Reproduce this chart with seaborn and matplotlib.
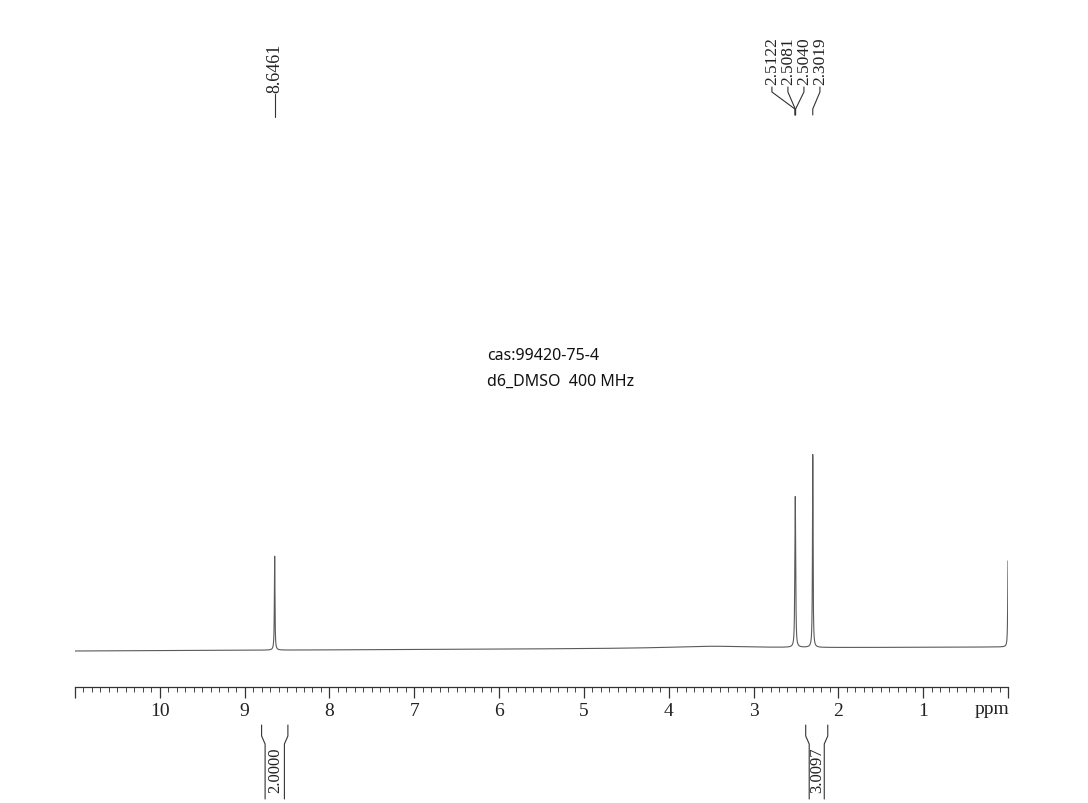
import numpy as np
import pandas as pd
import matplotlib
matplotlib.use("Agg")
import matplotlib.pyplot as plt
from matplotlib.lines import Line2D
from matplotlib.ticker import MultipleLocator, FixedLocator
import seaborn as sns

# ---------------- data ----------------
peak_ppm = [8.6461, 2.5122, 2.5081, 2.5040, 2.3019, 0.0, 3.5]
peak_height = [94, 50, 102, 50, 193, 86, 2]
peak_hwhm = [0.004, 0.004, 0.004, 0.004, 0.004, 0.004, 0.6]
baseline_ppm = [11.0, 0.0]
baseline_level = [0.0, 4.0]

label_single = ["8.6461"]
label_single_ppm = [8.6461]
label_group = ["2.5122", "2.5081", "2.5040", "2.3019"]
label_group_ppm = [2.5122, 2.5081, 2.5040, 2.3019]

integral_start = [8.80, 2.385]
integral_end = [8.49, 2.125]
integral_value = ["2.0000", "3.0097"]

major_ticks = [10, 9, 8, 7, 6, 5, 4, 3, 2, 1]
info_lines = ["cas:99420-75-4", "d6_DMSO  400 MHz"]

# ---------------- build spectrum ----------------
ppm = np.linspace(11.0, 0.0, 22001)
intensity = np.interp(ppm, baseline_ppm[::-1], baseline_level[::-1])
for p, h, w in zip(peak_ppm, peak_height, peak_hwhm):
    intensity = intensity + h / (1.0 + ((ppm - p) / w) ** 2)
df = pd.DataFrame({"ppm": ppm, "intensity": intensity})

# ---------------- figure ----------------
sns.set_style("white")
plt.rcParams["font.family"] = ["Liberation Serif", "DejaVu Serif"]
W, H = 1088, 804
fig = plt.figure(figsize=(W / 100, H / 100), dpi=100)
fig.patch.set_facecolor("white")

def fx(px):
    return px / W

def fy(py):
    return 1 - py / H

ax_l, ax_r, ax_b, ax_t = 75, 1008, 688, 440
ax = fig.add_axes([fx(ax_l), fy(ax_b), (ax_r - ax_l) / W, (ax_b - ax_t) / H])
sns.lineplot(data=df, x="ppm", y="intensity", ax=ax, color="#5a5a5a",
             linewidth=0.8, estimator=None, sort=False)
ax.set_xlim(11, 0)
ax.set_ylim(-36, 212)
for s in ["top", "left", "right"]:
    ax.spines[s].set_visible(False)
ax.spines["bottom"].set_color("#333333")
ax.spines["bottom"].set_linewidth(0.9)
ax.set_yticks([])
ax.set_xlabel("")
ax.set_ylabel("")
ax.xaxis.set_major_locator(FixedLocator([11] + major_ticks + [0]))
ax.set_xticklabels([""] + [str(t) for t in major_ticks] + [""])
ax.xaxis.set_minor_locator(MultipleLocator(0.1))
ax.tick_params(axis="x", which="both", bottom=True, top=False)
ax.tick_params(axis="x", which="major", direction="out", length=8, width=0.9,
               colors="#333333", labelsize=14, pad=2.5, labelcolor="#222222")
ax.tick_params(axis="x", which="minor", direction="out", length=3.5, width=0.7,
               colors="#444444")
ax.set_facecolor("white")

fig.text(fx(992), fy(710), "ppm", ha="center", va="center", fontsize=14,
         color="#222222")

fig.canvas.draw()

def data_px(p):
    return ax.transData.transform((p, 0))[0]

line_kw = dict(color="#333333", linewidth=0.8, transform=fig.transFigure)

# single peak label
for lab, p in zip(label_single, label_single_ppm):
    x = data_px(p)
    fig.text(fx(x), fy(93), lab, rotation=90, ha="center", va="bottom",
             fontsize=13, color="#222222")
    fig.add_artist(Line2D([fx(x), fx(x)], [fy(95), fy(118)], **line_kw))

# grouped peak labels
start_px = data_px(label_group_ppm[0]) - 23
for i, (lab, p) in enumerate(zip(label_group, label_group_ppm)):
    lx = start_px + i * 16
    x = data_px(p)
    fig.text(fx(lx), fy(85), lab, rotation=90, ha="center", va="bottom",
             fontsize=12.5, color="#222222")
    fig.add_artist(Line2D([fx(lx), fx(lx), fx(x), fx(x)],
                          [fy(88), fy(93), fy(110), fy(116)], **line_kw))

# integrals
for s, e, v in zip(integral_start, integral_end, integral_value):
    xl = data_px(s)
    xr = data_px(e)
    fig.add_artist(Line2D([fx(xl), fx(xl), fx(xl + 3.5), fx(xl + 3.5)],
                          [fy(726), fy(737), fy(745), fy(800)], **line_kw))
    fig.add_artist(Line2D([fx(xr), fx(xr), fx(xr - 3.5), fx(xr - 3.5)],
                          [fy(726), fy(737), fy(745), fy(800)], **line_kw))
    fig.text(fx((xl + xr) / 2 + 0.5), fy(770), v, rotation=90, ha="center",
             va="center", fontsize=12, color="#222222")

# info text
for i, t in enumerate(info_lines):
    fig.text(fx(487), fy(356 + 26 * i), t, ha="left", va="center",
             fontsize=11.5, family=["Noto Sans", "DejaVu Sans"], color="#111111")

fig.savefig("out.png", dpi=100, facecolor="white")
